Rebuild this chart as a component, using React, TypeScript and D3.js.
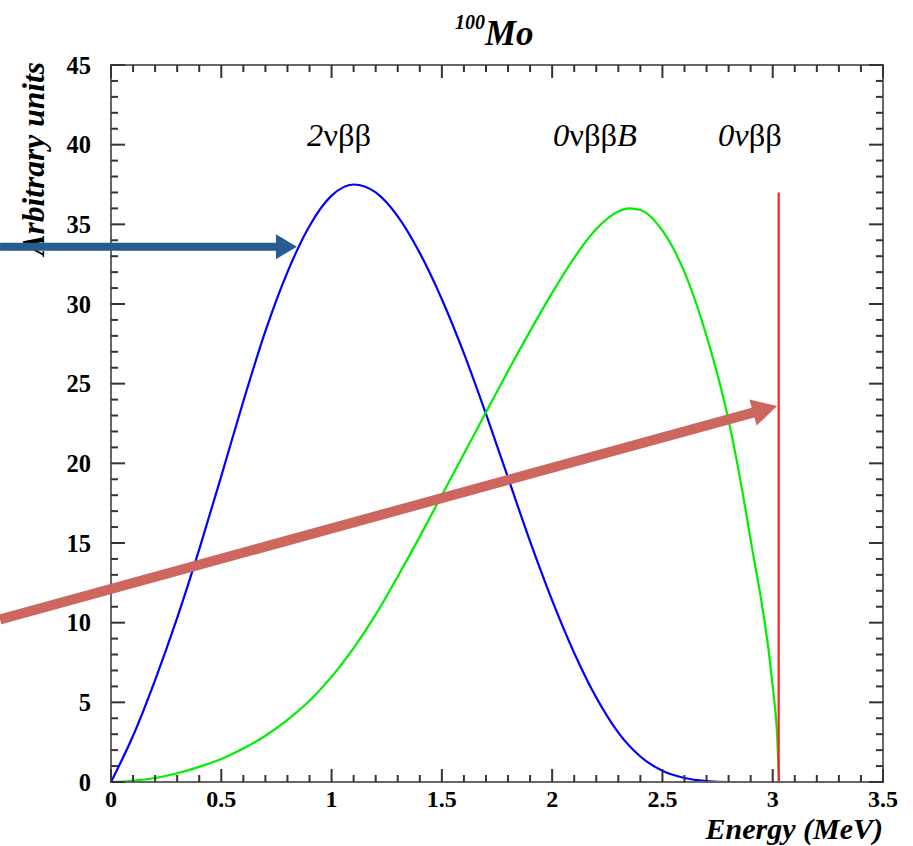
import React from "react";
import * as d3 from "d3";

const W = 913;
const H = 846;

// 2νββ spectrum (blue)
const twoNuE = [0, 0.1, 0.2, 0.3, 0.4, 0.5, 0.6, 0.7, 0.8, 0.9, 1.0, 1.1, 1.2, 1.3, 1.4, 1.5, 1.6, 1.7, 1.8, 1.9, 2.0, 2.1, 2.2, 2.3, 2.4, 2.5, 2.6, 2.7, 2.8, 2.9, 3.0, 3.03];
const twoNuY = [0, 2.9, 6.4, 10.3, 14.6, 19.2, 23.9, 28.3, 32.0, 34.9, 36.8, 37.5, 37.0, 35.5, 33.2, 30.3, 26.9, 23.1, 19.1, 15.1, 11.4, 8.1, 5.3, 3.1, 1.6, 0.7, 0.25, 0.06, 0, 0, 0, 0];

// 0νββB (Majoron) spectrum (green)
const majE = [0, 0.1, 0.2, 0.3, 0.4, 0.5, 0.6, 0.7, 0.8, 0.9, 1.0, 1.1, 1.2, 1.3, 1.4, 1.5, 1.6, 1.7, 1.8, 1.9, 2.0, 2.1, 2.2, 2.3, 2.35, 2.4, 2.5, 2.6, 2.7, 2.8, 2.9, 3.0, 3.02, 3.03, 3.5];
const majY = [0, 0.08, 0.25, 0.55, 0.95, 1.45, 2.1, 2.9, 3.9, 5.1, 6.6, 8.4, 10.5, 12.9, 15.4, 18.0, 20.6, 23.2, 25.8, 28.3, 30.7, 32.9, 34.7, 35.8, 36.0, 35.9, 34.6, 32.0, 28.0, 22.7, 15.2, 6.0, 3.0, 0, 0];

// 0νββ line (red)
const zeroNuE = 3.027;
const zeroNuY = 37.0;

// Axis ticks
const xMajor = [0, 0.5, 1, 1.5, 2, 2.5, 3, 3.5];
const xLabels = ["0", "0.5", "1", "1.5", "2", "2.5", "3", "3.5"];
const yMajor = [0, 5, 10, 15, 20, 25, 30, 35, 40, 45];
const xMinor = d3.range(0, 36).map((i) => i / 10);
const yMinor = d3.range(0, 46);

// Annotation arrows in data coordinates
const arrows = [
  { x0: -0.503, y0: 33.6, x1: 0.843, y1: 33.6, color: "#265d8e", width: 8, headLen: 21, headW: 25 },
  { x0: -0.503, y0: 10.2, x1: 3.02, y1: 23.6, color: "#cc665f", width: 10, headLen: 25, headW: 27 },
];

const serif = "'Liberation Serif', 'DejaVu Serif', serif";

export default function App() {
  const x = d3.scaleLinear().domain([0, 3.5]).range([111, 883]);
  const y = d3.scaleLinear().domain([0, 45]).range([782, 65]);
  const [x0, x1] = x.range();
  const [y0, y1] = y.range();

  const line = d3
    .line<[number, number]>()
    .x((d) => x(d[0]))
    .y((d) => y(d[1]))
    .curve(d3.curveMonotoneX);

  const blue = line(twoNuE.map((e, i) => [e, twoNuY[i]]));
  const green = line(majE.map((e, i) => [e, majY[i]]));

  const isMajorX = (v: number) => Math.abs(v * 2 - Math.round(v * 2)) < 1e-6;
  const isMajorY = (v: number) => v % 5 === 0;

  return (
    <div style={{ position: "absolute", left: 0, top: 0 }}>
      <svg width={W} height={H} style={{ display: "block", background: "#fff" }}>
        {/* curves */}
        <path d={blue || ""} fill="none" stroke="#0000ff" strokeWidth={2.2} />
        <path d={green || ""} fill="none" stroke="#00ee00" strokeWidth={2.2} />
        <line x1={x(zeroNuE)} x2={x(zeroNuE)} y1={y(0)} y2={y(zeroNuY)} stroke="#ff2020" strokeWidth={2.2} />

        {/* frame */}
        <rect x={x0} y={y1} width={x1 - x0} height={y0 - y1} fill="none" stroke="#666" strokeWidth={2} />

        {/* x ticks bottom & top */}
        {xMinor.map((v) => {
          const len = isMajorX(v) ? 13 : 7;
          return (
            <g key={"xt" + v} stroke="#333" strokeWidth={2}>
              <line x1={x(v)} x2={x(v)} y1={y0} y2={y0 - len} />
              <line x1={x(v)} x2={x(v)} y1={y1} y2={y1 + len} />
            </g>
          );
        })}
        {/* y ticks left & right */}
        {yMinor.map((v) => {
          const len = isMajorY(v) ? 14 : 7;
          return (
            <g key={"yt" + v} stroke="#333" strokeWidth={2}>
              <line x1={x0} x2={x0 + len} y1={y(v)} y2={y(v)} />
              <line x1={x1} x2={x1 - len} y1={y(v)} y2={y(v)} />
            </g>
          );
        })}

        {/* tick labels */}
        {xMajor.map((v, i) => (
          <text key={"xl" + v} x={x(v)} y={807} textAnchor="middle" fontFamily={serif} fontWeight="bold" fontSize={24} fill="#000">
            {xLabels[i]}
          </text>
        ))}
        {yMajor.map((v) => (
          <text key={"yl" + v} x={91} y={y(v) + 8.5} textAnchor="end" fontFamily={serif} fontWeight="bold" fontSize={24.5} fill="#000">
            {v}
          </text>
        ))}

        {/* axis titles */}
        <text x={883} y={839} textAnchor="end" fontFamily={serif} fontWeight="bold" fontStyle="italic" fontSize={30} fill="#000">
          Energy (MeV)
        </text>
        <text transform="translate(44,62) rotate(-90)" textAnchor="end" fontFamily={serif} fontWeight="bold" fontStyle="italic" fontSize={31.5} fill="#000">
          Arbitrary units
        </text>

        {/* title */}
        <text x={455} y={45} fontFamily={serif} fontWeight="bold" fontStyle="italic" fill="#000">
          <tspan fontSize={20} dy={-16}>100</tspan>
          <tspan fontSize={35} dy={16}>Mo</tspan>
        </text>

        {/* curve labels */}
        <text x={307} y={146} fontFamily={serif} fontSize={32.5} fill="#000">
          <tspan fontStyle="italic">2</tspan>νββ
        </text>
        <text x={553} y={146} fontFamily={serif} fontSize={32.5} fill="#000">
          <tspan fontStyle="italic">0</tspan>νββ<tspan fontStyle="italic">B</tspan>
        </text>
        <text x={718} y={146} fontFamily={serif} fontSize={32.5} fill="#000">
          <tspan fontStyle="italic">0ν</tspan>ββ
        </text>

        {/* arrows */}
        {arrows.map((a, i) => {
          const sx = x(a.x0), sy = y(a.y0), tx = x(a.x1), ty = y(a.y1);
          const ang = Math.atan2(ty - sy, tx - sx);
          const ux = Math.cos(ang), uy = Math.sin(ang);
          const bx = tx - ux * a.headLen, by = ty - uy * a.headLen;
          const px = -uy, py = ux;
          const hw = a.headW / 2;
          const pts = [
            [tx, ty],
            [bx + px * hw, by + py * hw],
            [bx - px * hw, by - py * hw],
          ].map((p) => p.join(",")).join(" ");
          return (
            <g key={"ar" + i}>
              <line x1={sx} y1={sy} x2={bx + ux * 1} y2={by + uy * 1} stroke={a.color} strokeWidth={a.width} />
              <polygon points={pts} fill={a.color} />
            </g>
          );
        })}
      </svg>
    </div>
  );
}
